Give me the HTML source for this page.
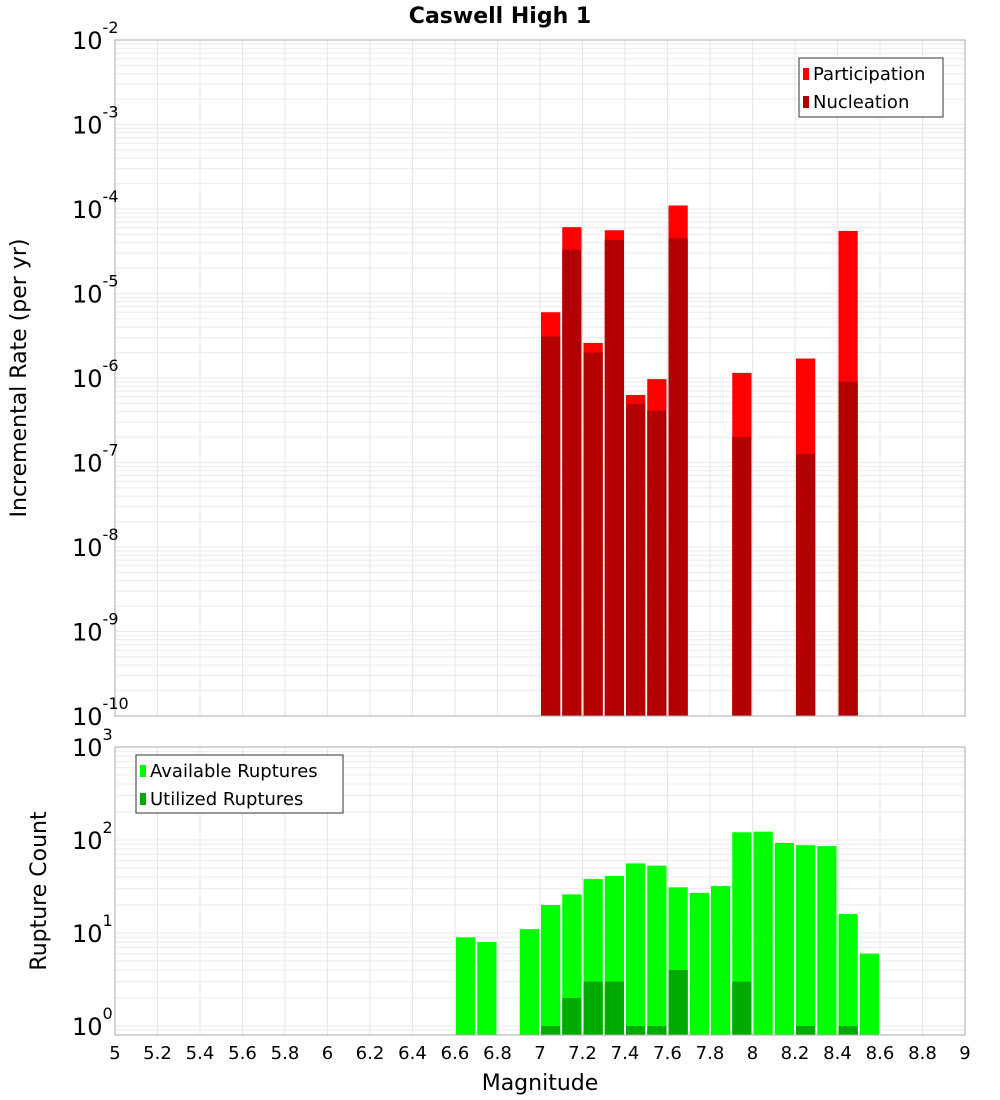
<!DOCTYPE html>
<html><head><meta charset="utf-8"><style>
body{margin:0;background:#fff;font-family:"Liberation Sans","DejaVu Sans",sans-serif}
svg{display:block}
</style></head><body>
<svg id="c" width="1000" height="1100" xmlns="http://www.w3.org/2000/svg" font-family="DejaVu Sans, Liberation Sans, sans-serif">
<text x="500" y="23" text-anchor="middle" font-size="22" font-weight="bold">Caswell High 1</text>
</svg>
<script>
const magnitudes=[7.05,7.15,7.25,7.35,7.45,7.55,7.65,7.95,8.25,8.45];
const participation=[6.0e-6,6.1e-5,2.6e-6,5.6e-5,6.3e-7,9.7e-7,1.1e-4,1.15e-6,1.7e-6,5.5e-5];
const nucleation=[3.1e-6,3.3e-5,2.0e-6,4.3e-5,4.9e-7,4.1e-7,4.5e-5,2.0e-7,1.26e-7,9.0e-7];
const countMags=[6.65,6.75,6.95,7.05,7.15,7.25,7.35,7.45,7.55,7.65,7.75,7.85,7.95,8.05,8.15,8.25,8.35,8.45,8.55];
const available=[9,8,11,20,26,38,41,56,53,31,27,32,121,123,93,88,86,16,6];
const utilized=[0,0,0,1,2,3,3,1,1,4,0,0,3,0,0,1,0,1,0];
const xTicks=[5,5.2,5.4,5.6,5.8,6,6.2,6.4,6.6,6.8,7,7.2,7.4,7.6,7.8,8,8.2,8.4,8.6,8.8,9];
const topExps=[-2,-3,-4,-5,-6,-7,-8,-9,-10];
const botExps=[3,2,1,0];

const svg=document.getElementById('c');
const NS='http://www.w3.org/2000/svg';
function el(t,a,p){const e=document.createElementNS(NS,t);for(const k in a)e.setAttribute(k,a[k]);(p||svg).appendChild(e);return e;}
const X0=115,X1=965;
const x=m=>X0+(m-5)/4*(X1-X0);
const yTop=v=>40+(-2-Math.log10(v))*84.5;
const yBot=v=>1026-Math.log10(v)*93;
const binW=0.1;

function panel(name,top,bottom,ymap,lo,hi){
  const g=el('g',{});
  
  
  for(let e=lo;e<hi;e++)for(let k=1;k<10;k++){const yy=ymap(k*Math.pow(10,e));if(yy<top||yy>bottom)continue;
    el('line',{x1:X0,x2:X1,y1:yy,y2:yy,stroke:'#ebebeb','stroke-width':1},g);}
  for(let k=1;k<10;k++){const yy=ymap(k*Math.pow(10,lo-1));if(yy>=top&&yy<=bottom)el('line',{x1:X0,x2:X1,y1:yy,y2:yy,stroke:'#ebebeb','stroke-width':1},g);}
  xTicks.forEach(t=>el('line',{x1:x(t),x2:x(t),y1:top,y2:bottom,stroke:'#e6e6e6','stroke-width':1},g));
}
panel('top',40,716,yTop,-10,-2);
panel('bottom',747,1035,yBot,0,3);

// top bars
magnitudes.forEach((m,i)=>{
  const l=x(m-binW/2)+1,w=x(m+binW/2)-x(m-binW/2)-2;
  const p=el('rect',{x:l,y:yTop(participation[i]),width:w,height:716-yTop(participation[i]),fill:'#ff0000'});
  
  
  const n=el('rect',{x:l,y:yTop(nucleation[i]),width:w,height:716-yTop(nucleation[i]),fill:'#b30000'});
  
  
});
// bottom bars
countMags.forEach((m,i)=>{
  const l=x(m-binW/2)+1,w=x(m+binW/2)-x(m-binW/2)-2;
  const a=el('rect',{x:l,y:yBot(available[i]),width:w,height:1035-yBot(available[i]),fill:'#00ff00'});
  
  
  if(utilized[i]>0){
    const u=el('rect',{x:l,y:yBot(utilized[i]),width:w,height:1035-yBot(utilized[i]),fill:'#00aa00'});
    
    
  }
});
// frames
const f1=el('rect',{x:X0,y:40,width:X1-X0,height:676,fill:'none',stroke:'#aaa'});


const f2=el('rect',{x:X0,y:747,width:X1-X0,height:288,fill:'none',stroke:'#aaa'});



function ylab(e,yy,name){
  const t=el('text',{x:108,y:yy+9,'text-anchor':'end','font-size':24});
  
  
  const a=el('tspan',{},t);a.textContent='10';
  const b=el('tspan',{dy:-16,'font-size':16},t);b.textContent=String(e);
  t.setAttribute('transform','translate(0,0)');
  // shift so superscript ends near axis
  t.setAttribute('x',72);t.setAttribute('text-anchor','start');
}
topExps.forEach(e=>ylab(e,yTop(Math.pow(10,e)),'y-tick-label-top'));
botExps.forEach(e=>ylab(e,yBot(Math.pow(10,e)),'y-tick-label-bottom'));
xTicks.forEach(t=>{
  const tx=el('text',{x:x(t),y:1059,'text-anchor':'middle','font-size':18});
  tx.textContent=String(t);
  
  
});
function label(txt,xx,yy,rot,name){
  const t=el('text',{x:xx,y:yy,'text-anchor':'middle','font-size':22});
  if(rot)t.setAttribute('transform','rotate(-90 '+xx+' '+yy+')');
  t.textContent=txt;
  
  
}
label('Magnitude',540,1090,false,'x-axis-title');
label('Incremental Rate (per yr)',26,378,true,'y-axis-title-top');
label('Rupture Count',46,891,true,'y-axis-title-bottom');

function legend(bx,by,w,h,items,name){
  const g=el('g',{});
  
  
  el('rect',{x:bx,y:by,width:w,height:h,fill:'#fff',stroke:'#333'},g);
  items.forEach((it,i)=>{
    el('rect',{x:bx+4,y:by+10+i*28,width:6,height:12,fill:it[1]},g);
    const t=el('text',{x:bx+14,y:by+22+i*28,'font-size':18},g);t.textContent=it[0];
  });
}
legend(799,58,144,59,[['Participation','#ff0000'],['Nucleation','#b30000']],'legend-top');
legend(136,755,207,58,[['Available Ruptures','#00ff00'],['Utilized Ruptures','#00aa00']],'legend-bottom');
</script>
</body></html>
